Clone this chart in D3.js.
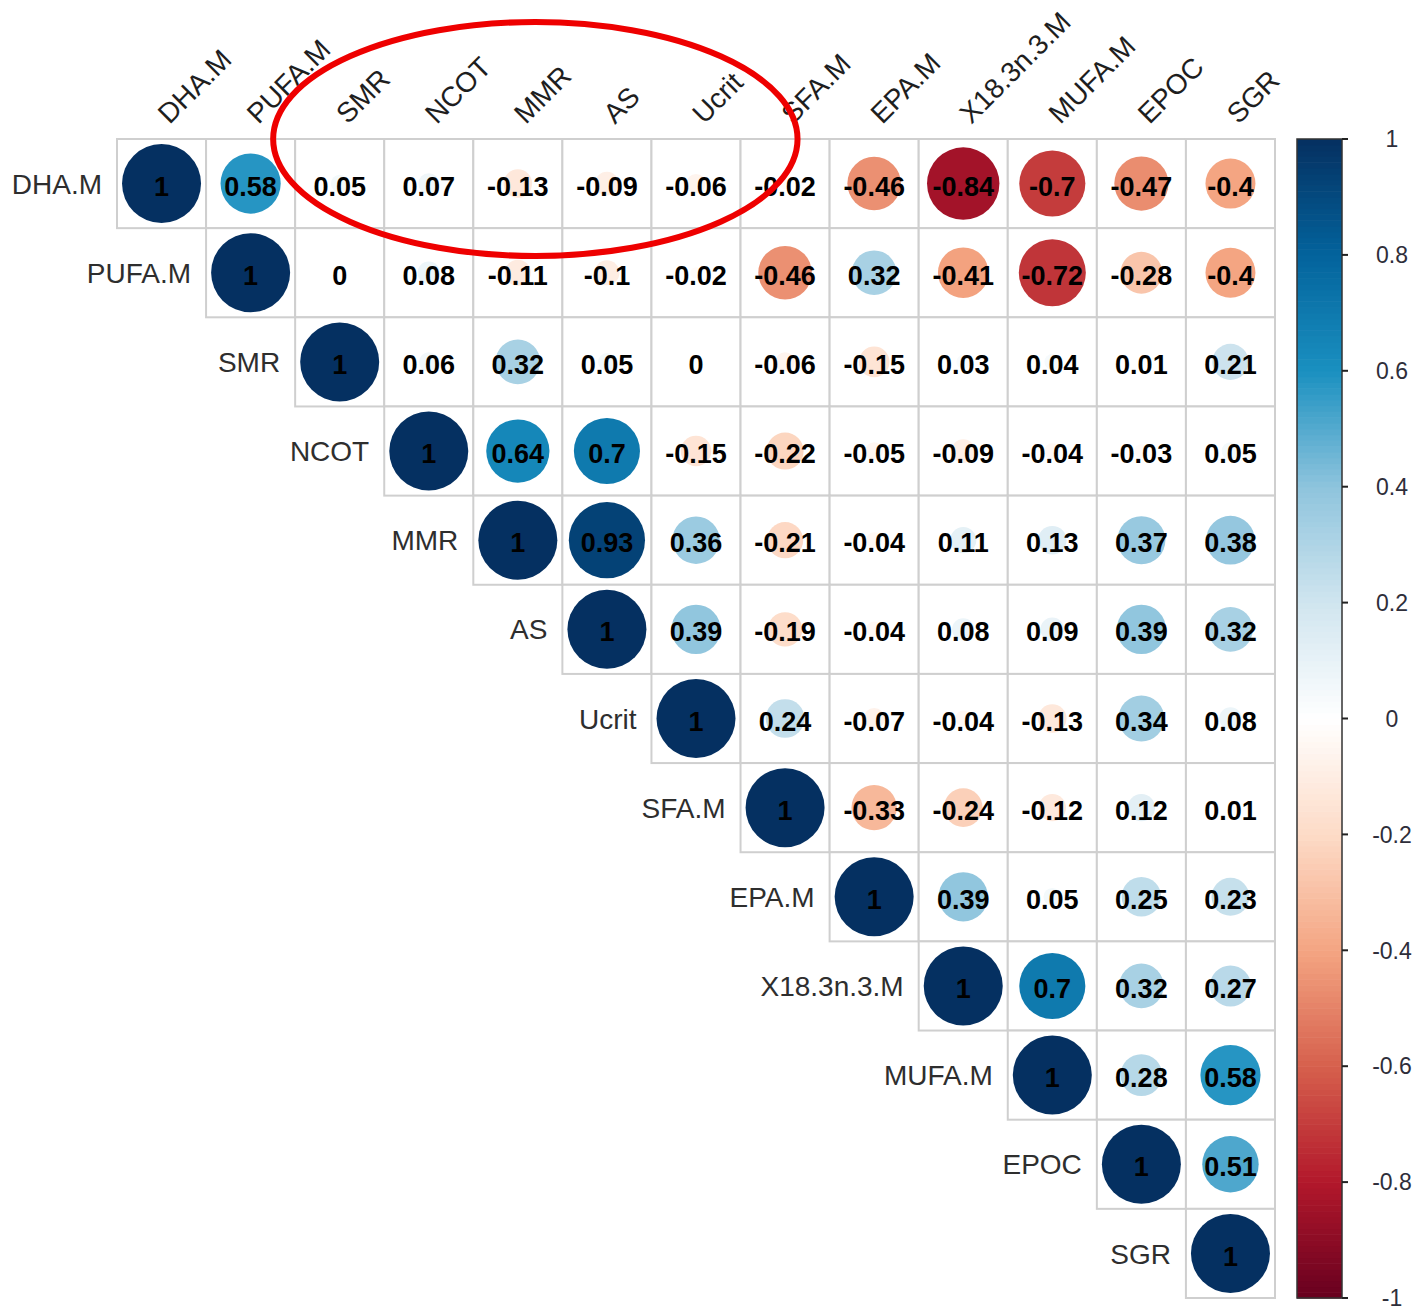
<!DOCTYPE html>
<html>
<head>
<meta charset="utf-8">
<script src="https://cdn.jsdelivr.net/npm/d3@7"></script>
<style>
  html, body { margin: 0; padding: 0; background: #ffffff; }
  svg { display: block; }
</style>
</head>
<body>
<svg id="chart" width="1421" height="1311"></svg>
<script>
// Variables of the correlation matrix, in display order
const variables = ["DHA.M", "PUFA.M", "SMR", "NCOT", "MMR", "AS", "Ucrit",
                   "SFA.M", "EPA.M", "X18.3n.3.M", "MUFA.M", "EPOC", "SGR"];

// Upper triangle of the correlation matrix, one row per variable (starting at the diagonal)
const rowDHA   = [1, 0.58, 0.05, 0.07, -0.13, -0.09, -0.06, -0.02, -0.46, -0.84, -0.7, -0.47, -0.4];
const rowPUFA  = [1, 0, 0.08, -0.11, -0.1, -0.02, -0.46, 0.32, -0.41, -0.72, -0.28, -0.4];
const rowSMR   = [1, 0.06, 0.32, 0.05, 0, -0.06, -0.15, 0.03, 0.04, 0.01, 0.21];
const rowNCOT  = [1, 0.64, 0.7, -0.15, -0.22, -0.05, -0.09, -0.04, -0.03, 0.05];
const rowMMR   = [1, 0.93, 0.36, -0.21, -0.04, 0.11, 0.13, 0.37, 0.38];
const rowAS    = [1, 0.39, -0.19, -0.04, 0.08, 0.09, 0.39, 0.32];
const rowUcrit = [1, 0.24, -0.07, -0.04, -0.13, 0.34, 0.08];
const rowSFA   = [1, -0.33, -0.24, -0.12, 0.12, 0.01];
const rowEPA   = [1, 0.39, 0.05, 0.25, 0.23];
const rowX18   = [1, 0.7, 0.32, 0.27];
const rowMUFA  = [1, 0.28, 0.58];
const rowEPOC  = [1, 0.51];
const rowSGR   = [1];

const upperRows = [rowDHA, rowPUFA, rowSMR, rowNCOT, rowMMR, rowAS, rowUcrit,
                   rowSFA, rowEPA, rowX18, rowMUFA, rowEPOC, rowSGR];

// Colour legend ticks
const legendTicks = [1, 0.8, 0.6, 0.4, 0.2, 0, -0.2, -0.4, -0.6, -0.8, -1];

// Diverging red-blue palette stops from -1 to 1
const paletteStops = ["#67001f", "#b2182b", "#d6604d", "#f4a582", "#fddbc7", "#ffffff",
                      "#d0e5ef", "#8ec4dd", "#1a90c0", "#03639c", "#053061"];

// Flatten the triangle into cells
const cells = [];
upperRows.forEach((row, i) => {
  row.forEach((v, k) => {
    cells.push({ row: variables[i], col: variables[i + k], value: v });
  });
});

const svg = d3.select("#chart");

const x = d3.scaleBand().domain(variables).range([117, 1275]);
const y = d3.scaleBand().domain(variables).range([139, 1298]);
const bw = x.bandwidth();
const bh = y.bandwidth();

const color = d3.scaleLinear()
  .domain(d3.range(paletteStops.length).map(i => -1 + 2 * i / (paletteStops.length - 1)))
  .range(paletteStops)
  .interpolate(d3.interpolateRgb)
  .clamp(true);

// Circle area is proportional to |r|
const rMax = 39.5;
const radius = d3.scaleSqrt().domain([0, 1]).range([0, rMax]);

// Cell grid
const g = svg.append("g");
g.selectAll("rect.cell")
  .data(cells)
  .join("rect")
  .attr("class", "cell")
  .attr("x", d => x(d.col))
  .attr("y", d => y(d.row))
  .attr("width", bw)
  .attr("height", bh)
  .attr("fill", "#ffffff")
  .attr("stroke", "#cfcfcf")
  .attr("stroke-width", 2);

// Circles
g.selectAll("circle.corr")
  .data(cells)
  .join("circle")
  .attr("class", "corr")
  .attr("cx", d => x(d.col) + bw / 2)
  .attr("cy", d => y(d.row) + bh / 2)
  .attr("r", d => radius(Math.abs(d.value)))
  .attr("fill", d => color(d.value));

// Coefficient labels
g.selectAll("text.num")
  .data(cells)
  .join("text")
  .attr("class", "num")
  .attr("x", d => x(d.col) + bw / 2)
  .attr("y", d => y(d.row) + bh / 2)
  .attr("dy", "0.45em")
  .attr("text-anchor", "middle")
  .attr("font-family", "'Liberation Sans', Arial, sans-serif")
  .attr("font-weight", "bold")
  .attr("font-size", 27)
  .attr("fill", "#000000")
  .text(d => String(d.value));

// Row labels, to the left of each diagonal cell
svg.append("g").selectAll("text")
  .data(variables)
  .join("text")
  .attr("x", d => x(d) - 15)
  .attr("y", d => y(d) + bh / 2)
  .attr("dy", "0.36em")
  .attr("text-anchor", "end")
  .attr("font-family", "'Liberation Sans', Arial, sans-serif")
  .attr("font-size", 28)
  .attr("fill", "#2e2e2e")
  .text(d => d);

// Column labels, rotated above the grid
svg.append("g").selectAll("text")
  .data(variables)
  .join("text")
  .attr("transform", d => `translate(${x(d) + bw / 2 + 8},${y.range()[0] - 14}) rotate(-45)`)
  .attr("text-anchor", "start")
  .attr("font-family", "'Liberation Sans', Arial, sans-serif")
  .attr("font-size", 28)
  .attr("fill", "#1e1e1e")
  .text(d => d);

// Colour legend
const legX = 1297, legW = 45;
const legY = d3.scaleLinear().domain([-1, 1]).range([1298, 139]);
const steps = d3.range(200).map(i => -1 + (i + 0.5) * 2 / 200);
const leg = svg.append("g");
leg.selectAll("rect.step")
  .data(steps)
  .join("rect")
  .attr("class", "step")
  .attr("x", legX)
  .attr("y", d => legY(d + 1 / 200))
  .attr("width", legW)
  .attr("height", (legY(-1) - legY(1)) / 200 + 0.6)
  .attr("fill", d => color(d));
leg.append("rect")
  .attr("x", legX)
  .attr("y", legY(1))
  .attr("width", legW)
  .attr("height", legY(-1) - legY(1))
  .attr("fill", "none")
  .attr("stroke", "#333333")
  .attr("stroke-width", 1.5);
leg.selectAll("line.tick")
  .data(legendTicks)
  .join("line")
  .attr("class", "tick")
  .attr("x1", legX + legW)
  .attr("x2", legX + legW + 6)
  .attr("y1", d => legY(d))
  .attr("y2", d => legY(d))
  .attr("stroke", "#222222")
  .attr("stroke-width", 2);
leg.selectAll("text.ticklabel")
  .data(legendTicks)
  .join("text")
  .attr("class", "ticklabel")
  .attr("x", 1392)
  .attr("y", d => legY(d))
  .attr("dy", "0.36em")
  .attr("text-anchor", "middle")
  .attr("font-family", "'Liberation Sans', Arial, sans-serif")
  .attr("font-size", 23)
  .attr("fill", "#2e2e3a")
  .text(d => String(d));

// Highlight ring around the SMR–Ucrit column headers
const ringLeft = x("SMR") - 22;
const ringRight = x("Ucrit") + bw + 57;
svg.append("ellipse")
  .attr("cx", (ringLeft + ringRight) / 2)
  .attr("cy", y.range()[0])
  .attr("rx", (ringRight - ringLeft) / 2)
  .attr("ry", 117)
  .attr("fill", "none")
  .attr("stroke", "#ee0000")
  .attr("stroke-width", 6);
</script>
</body>
</html>
